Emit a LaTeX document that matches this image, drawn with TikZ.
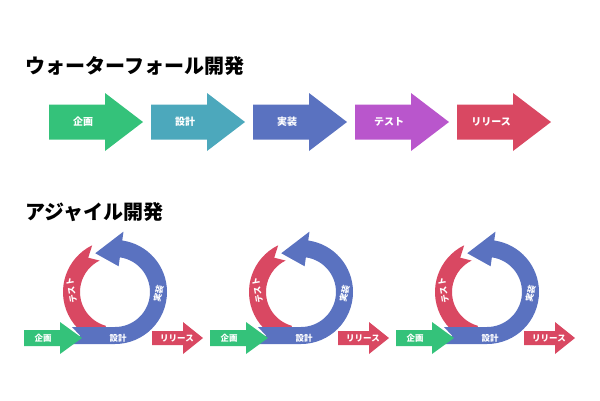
\documentclass[tikz,border=0pt]{standalone}
\usepackage{fontspec}
\setmainfont{Noto Sans CJK JP}
\usetikzlibrary{positioning}
\definecolor{kgreen}{RGB}{52,194,122}
\definecolor{kteal}{RGB}{76,168,188}
\definecolor{kblue}{RGB}{90,114,192}
\definecolor{kpurple}{RGB}{185,86,204}
\definecolor{kred}{RGB}{217,72,98}

\begin{document}
\begin{tikzpicture}[x=1pt,y=-1pt,
    title/.style={anchor=west, font=\bfseries\fontsize{20}{20}\selectfont},
    lbl/.style={text=white, font=\bfseries\fontsize{10}{10}\selectfont},
    slbl/.style={text=white, font=\bfseries\fontsize{8.5}{8.5}\selectfont},
    pics/bigarrow/.style={code={
        \fill[#1] (0,-17.5) -- (56,-17.5) -- (56,-29) -- (94,0) -- (56,29) -- (56,17.5) -- (0,17.5) -- cycle;
    }},
    pics/cycle/.style={code={
        % ring: Test
        \fill[kred] (-116:52) arc[start angle=-116,end angle=-255,radius=52]
            -- (-255:35) arc[start angle=-255,end angle=-116,radius=35] -- (-128:43.5) -- cycle;
        % ring: Design / Build
        \fill[kblue] (-43,35) -- (-35,43.5) -- (-43,52) -- (0,52)
            arc[start angle=90,end angle=-82,radius=52] -- (-82:61) -- (-117:43.5)
            -- (-82:26) -- (-82:35) arc[start angle=-82,end angle=90,radius=35] -- cycle;
        % Plan
        \fill[kgreen] (-91,38) -- (-55,38) -- (-55,30) -- (-33,46) -- (-55,62) -- (-55,54) -- (-91,54) -- cycle;
        % Release
        \fill[kred] (37,39) -- (68,39) -- (68,30) -- (88,46) -- (68,62) -- (68,53) -- (37,53) -- cycle;
        \node[slbl] (-plan) at (-72,46) {企画};
        \node[slbl] (-design) at (3,46) {設計};
        \node[slbl] (-release) at (62,46) {リリース};
        \node[slbl, rotate=100, inner sep=0pt] (-test) at (182:43.5) {テスト};
        \node[slbl, rotate=78, inner sep=0pt] (-build) at (2:43.5) {実装};
    }}]
    \useasboundingbox (0,0) rectangle (600,400);

    % Waterfall
    \node[title] (wtitle) at (22,66) {ウォーターフォール開発};
    \pic at (49,122) {bigarrow=kgreen};
    \pic at (151,122) {bigarrow=kteal};
    \pic at (253,122) {bigarrow=kblue};
    \pic at (355,122) {bigarrow=kpurple};
    \pic at (457,122) {bigarrow=kred};
    \node[lbl] (wplan) at (83,122) {企画};
    \node[lbl] (wdesign) at (185,122) {設計};
    \node[lbl] (wbuild) at (287,122) {実装};
    \node[lbl] (wtest) at (389,122) {テスト};
    \node[lbl] (wrelease) at (491,122) {リリース};

    % Agile
    \node[title] (atitle) at (22,212) {アジャイル開発};
    \pic (c1) at (115,292) {cycle};
    \pic (c2) at (301,292) {cycle};
    \pic (c3) at (487,292) {cycle};
\end{tikzpicture}
\end{document}
